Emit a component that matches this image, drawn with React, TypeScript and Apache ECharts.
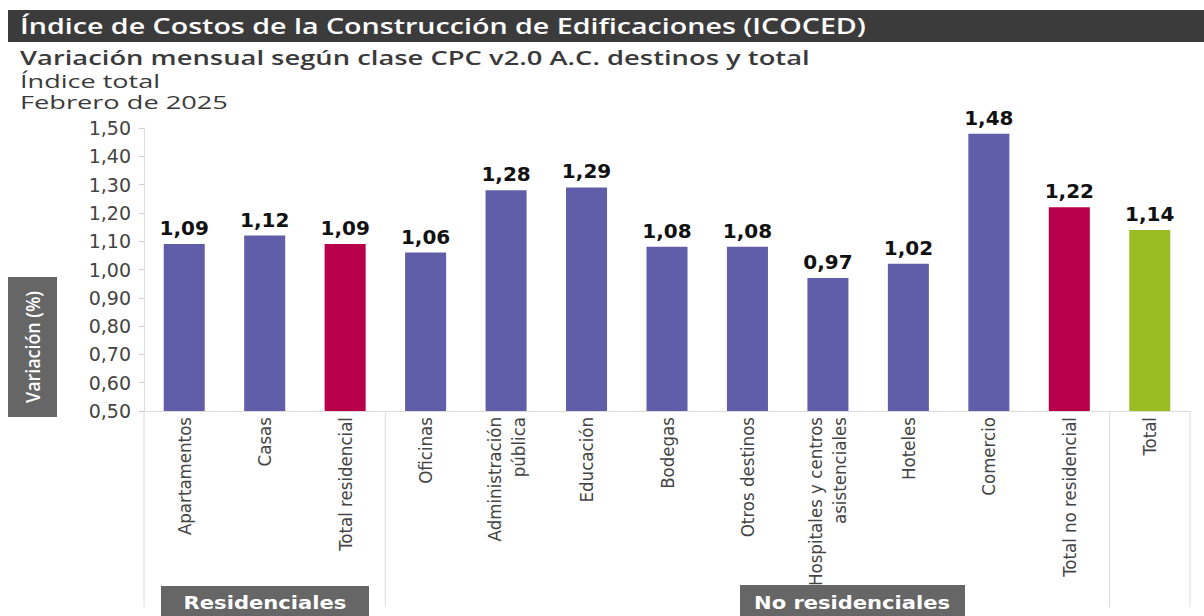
import React, { useEffect, useRef } from "react";
import * as echarts from "echarts";

const categories = [
  "Apartamentos",
  "Casas",
  "Total residencial",
  "Oficinas",
  "Administración\npública",
  "Educación",
  "Bodegas",
  "Otros destinos",
  "Hospitales y centros\nasistenciales",
  "Hoteles",
  "Comercio",
  "Total no residencial",
  "Total",
];
const values = [1.09, 1.12, 1.09, 1.06, 1.28, 1.29, 1.08, 1.08, 0.97, 1.02, 1.48, 1.22, 1.14];
const kinds = ["d", "d", "s", "d", "d", "d", "d", "d", "d", "d", "d", "s", "t"];
const yTicks = [0.5, 0.6, 0.7, 0.8, 0.9, 1.0, 1.1, 1.2, 1.3, 1.4, 1.5];
const separatorsAfter = [2, 11];

const titleText = "Índice de Costos de la Construcción de Edificaciones (ICOCED)";
const subtitleLines = [
  "Variación mensual según clase CPC v2.0 A.C. destinos y total",
  "Índice total",
  "Febrero de 2025",
];
const yName = "Variación (%)";
const groupLabels = ["Residenciales", "No residenciales"];

const kindColor: Record<string, string> = { d: "#605ea8", s: "#b8004a", t: "#9abd23" };
const fmt = (v: number) => v.toFixed(2).replace(".", ",");

let ctx: CanvasRenderingContext2D | null = null;
function fit(text: string, font: string, target: number) {
  if (!ctx) ctx = document.createElement("canvas").getContext("2d");
  if (!ctx) return 1;
  ctx.font = font;
  const w = ctx.measureText(text).width;
  return w > 0 ? target / w : 1;
}

export default function App() {
  const ref = useRef<HTMLDivElement>(null);
  useEffect(() => {
    document.body.style.margin = "0";
    const chart = echarts.init(ref.current!, null, { renderer: "svg" });
    const option: any = {
      animation: false,
      grid: { left: 144, right: 14, top: 128, bottom: 205, containLabel: false },
      xAxis: {
        type: "category",
        data: categories,
        axisLine: { show: true, lineStyle: { color: "#dcdcdc", width: 1 } },
        axisTick: { show: false },
        axisLabel: {
          rotate: 90,
          interval: 0,
          margin: 6,
          fontFamily: "'Liberation Sans Narrow', 'DejaVu Sans Condensed', sans-serif",
          fontSize: 18.5,
          lineHeight: 24,
          color: "#444",
        },
      },
      yAxis: {
        type: "value",
        min: 0.5,
        max: 1.5,
        interval: 0.1,
        axisLine: { show: true, lineStyle: { color: "#dcdcdc" } },
        axisTick: { show: true, length: 5, lineStyle: { color: "#cfcfcf" } },
        splitLine: { show: false },
        axisLabel: {
          margin: 13,
          fontFamily: "'DejaVu Sans', sans-serif",
          fontSize: 19,
          color: "#444",
          formatter: (v: number) => (yTicks.some((t) => Math.abs(t - v) < 1e-6) ? fmt(v) : ""),
        },
      },
      series: [
        {
          type: "bar",
          barWidth: "51%",
          data: values.map((v, i) => ({ value: v, itemStyle: { color: kindColor[kinds[i]] } })),
          label: {
            show: true,
            position: "top",
            distance: 6,
            fontFamily: "'DejaVu Sans', sans-serif",
            fontWeight: "bold",
            fontSize: 20,
            color: "#111",
            formatter: (p: any) => fmt(p.value),
          },
        },
      ],
    };
    chart.setOption(option);

    const x0 = chart.convertToPixel({ xAxisIndex: 0 }, 0) as number;
    const x1 = chart.convertToPixel({ xAxisIndex: 0 }, 1) as number;
    const step = x1 - x0;
    const yBase = chart.convertToPixel({ yAxisIndex: 0 }, 0.5) as number;
    const lineBottom = 607;
    const sepXs = [x0 - step / 2, ...separatorsAfter.map((i) => x0 + step * (i + 0.5)), x0 + step * (categories.length - 0.5)];

    const titleFont = "600 21px 'Open Sans'";
    const subFont = "600 19px 'Open Sans'";
    const lineFont = "19px 'Open Sans'";
    const yNameFont = "600 19px 'Open Sans'";
    const boxFont = "bold 17px 'DejaVu Sans'";

    const tText = (text: string, x: number, y: number, font: string, fill: string, target: number, extra: any = {}) => ({
      type: "text",
      x,
      y,
      scaleX: fit(text, font, target),
      style: { text, font, fill, textAlign: "left", textVerticalAlign: "middle" },
      ...extra,
    });

    const graphics: any[] = [
      { type: "rect", shape: { x: 8, y: 10, width: 1196, height: 32 }, style: { fill: "#3b3b3b" } },
      tText(titleText, 20, 26, titleFont, "#ffffff", 846),
      tText(subtitleLines[0], 20, 58, subFont, "#3a3a3a", 790),
      tText(subtitleLines[1], 20, 81, lineFont, "#3a3a3a", 140),
      tText(subtitleLines[2], 20, 102, lineFont, "#3a3a3a", 208),
      { type: "rect", shape: { x: 8, y: 277, width: 49, height: 140 }, style: { fill: "#666666" } },
      {
        type: "text",
        x: 32,
        y: 347,
        rotation: Math.PI / 2,
        scaleX: fit(yName, yNameFont, 112),
        style: { text: yName, font: yNameFont, fill: "#ffffff", textAlign: "center", textVerticalAlign: "middle" },
      },
      ...sepXs.map((x) => ({
        type: "line",
        shape: { x1: x, y1: yBase, x2: x, y2: lineBottom },
        style: { stroke: "#dcdcdc", lineWidth: 1 },
      })),
      { type: "rect", shape: { x: 161, y: 586, width: 208, height: 32 }, style: { fill: "#666666" } },
      {
        type: "text",
        x: 265,
        y: 603,
        scaleX: fit(groupLabels[0], boxFont, 163),
        style: { text: groupLabels[0], font: boxFont, fill: "#ffffff", textAlign: "center", textVerticalAlign: "middle" },
      },
      { type: "rect", shape: { x: 740, y: 585, width: 225, height: 33 }, style: { fill: "#666666" } },
      {
        type: "text",
        x: 852,
        y: 603,
        scaleX: fit(groupLabels[1], boxFont, 196),
        style: { text: groupLabels[1], font: boxFont, fill: "#ffffff", textAlign: "center", textVerticalAlign: "middle" },
      },
    ];
    chart.setOption({ graphic: graphics });
    return () => chart.dispose();
  }, []);
  return <div ref={ref} style={{ width: 1204, height: 616 }} />;
}
